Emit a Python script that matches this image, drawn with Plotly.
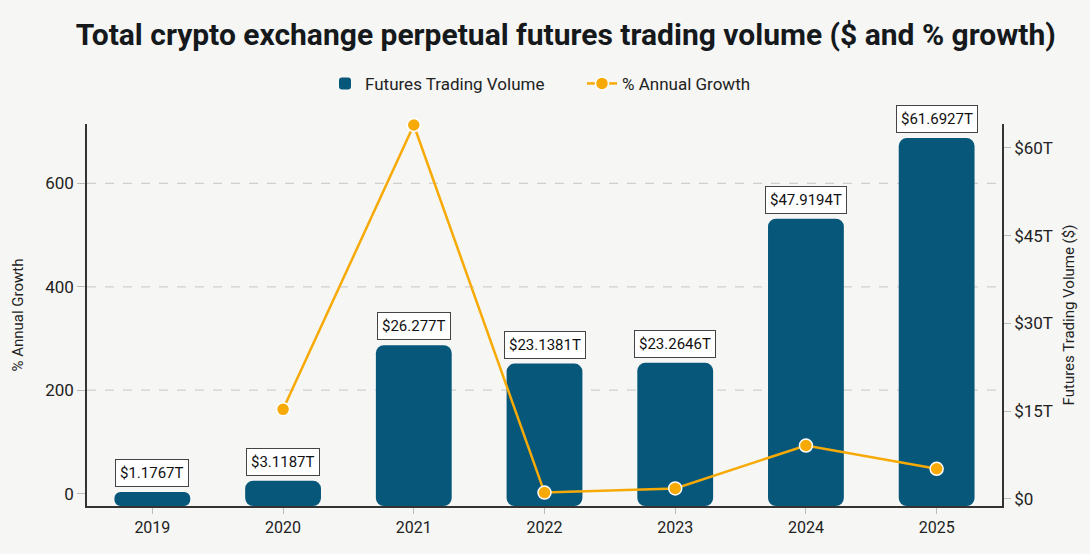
import plotly.graph_objects as go

years = ["2019", "2020", "2021", "2022", "2023", "2024", "2025"]
volume_t = [1.1767, 3.1187, 26.277, 23.1381, 23.2646, 47.9194, 61.6927]
volume_labels = ["$1.1767T", "$3.1187T", "$26.277T", "$23.1381T", "$23.2646T", "$47.9194T", "$61.6927T"]
growth_years = ["2020", "2021", "2022", "2023", "2024", "2025"]
growth_pct = [163, 713, 2, 10, 93, 48]
growth_ticks = [0, 200, 400, 600]
grid_vals = [200, 400, 600]
vol_ticks = [0, 15, 30, 45, 60]
vol_ticktext = ["$0", "$15T", "$30T", "$45T", "$60T"]

VOL_RANGE = [-1.21, 64.1]
GROWTH_RANGE = [-24, 715]

BAR = "#07577B"
ORANGE = "#F7AA06"
BG = "#F6F6F4"
TXT = "#222222"
FONT = "Roboto, Noto Sans, sans-serif"

fig = go.Figure()
# bars start at the bottom of the plot area (as in the reference)
fig.add_trace(go.Bar(
    x=years, y=[v - VOL_RANGE[0] for v in volume_t], base=VOL_RANGE[0],
    name="Futures Trading Volume", yaxis="y",
    marker=dict(color=BAR, cornerradius=8, line=dict(width=0)), width=0.58,
))
fig.add_trace(go.Scatter(
    x=growth_years, y=growth_pct, name="% Annual Growth", yaxis="y2",
    mode="lines+markers", cliponaxis=False,
    line=dict(color=ORANGE, width=2.5),
    marker=dict(color=ORANGE, size=13, line=dict(color="white", width=1.5)),
))

for i, (v, lab) in enumerate(zip(volume_t, volume_labels)):
    fig.add_annotation(
        x=i, y=v, xref="x", yref="y", text=lab, showarrow=False,
        yanchor="bottom", yshift=5,
        font=dict(family=FONT, size=15, color="#111111"),
        bgcolor="white", bordercolor="#444444", borderwidth=1, borderpad=4,
    )

for g in grid_vals:
    fig.add_shape(type="line", xref="paper", x0=0, x1=1, yref="y2", y0=g, y1=g,
                  line=dict(color="#CFCFCF", width=1.2, dash="dash"), layer="below")

fig.update_layout(
    width=1090, height=554,
    paper_bgcolor=BG, plot_bgcolor=BG,
    margin=dict(l=87, r=88, t=124, b=48),
    font=dict(family=FONT, size=16, color=TXT),
    title=dict(
        text="<b>Total crypto exchange perpetual futures trading volume ($ and % growth)</b>",
        x=0.519, xanchor="center", y=0.937, yanchor="middle", xref="container",
        font=dict(family=FONT, size=30, color="#15191c"),
    ),
    legend=dict(orientation="h", x=(325 - 87) / 915, xanchor="left", y=1.105, yanchor="middle",
                font=dict(size=17), bgcolor="rgba(0,0,0,0)", entrywidth=212,
                traceorder="normal"),
    xaxis=dict(type="category", range=[-0.5, 6.5], showline=True, linecolor="#333333", linewidth=1.5,
               ticks="outside", ticklen=6, tickcolor="#BBBBBB", showgrid=False,
               tickfont=dict(size=16)),
    yaxis=dict(side="right", range=VOL_RANGE, tickvals=vol_ticks, ticktext=vol_ticktext,
               showline=True, linecolor="#333333", linewidth=1.5, ticks="outside", ticklen=7,
               tickcolor="#BBBBBB", showgrid=False, zeroline=False, tickfont=dict(size=17),
               title=dict(text="Futures Trading Volume ($)", font=dict(size=15), standoff=12)),
    yaxis2=dict(side="left", overlaying="y", range=GROWTH_RANGE, tickvals=growth_ticks,
                showline=True, linecolor="#333333", linewidth=1.5, ticks="outside", ticklen=8,
                tickcolor="#BBBBBB", showgrid=False, zeroline=False, tickfont=dict(size=17),
                title=dict(text="% Annual Growth", font=dict(size=15), standoff=18)),
)

fig.write_html("out.html")
